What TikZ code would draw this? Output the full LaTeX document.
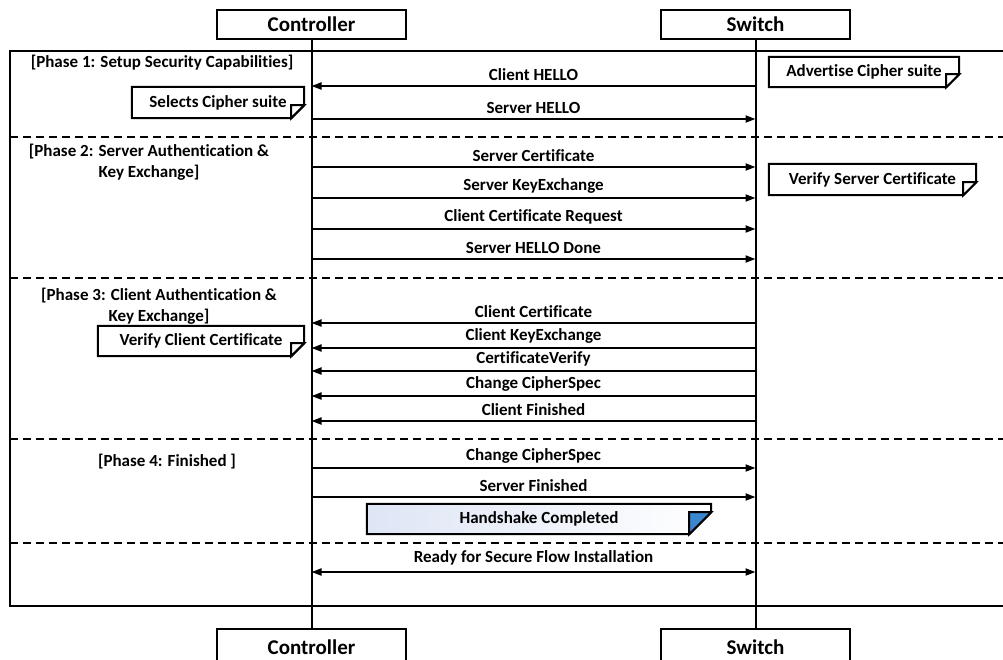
\documentclass[tikz,border=0pt]{standalone}
\usepackage{fontspec}
\setmainfont{Carlito}[Ligatures={NoCommon}]
\usetikzlibrary{arrows.meta}
\definecolor{foldblue}{RGB}{58,134,207}
\definecolor{lightblue}{RGB}{222,229,245}
\newcommand\foldnote[3]{%
  \draw[notebox,#3] (#1.north west) -- (#1.north east) -- ([yshift=#2pt]#1.south east) -- ([xshift=-#2pt]#1.south east) -- (#1.south west) -- cycle;
  \draw[notebox,fill=white,#3] ([xshift=-#2pt]#1.south east) -- ([yshift=#2pt]#1.south east) -- ([xshift=-#2pt,yshift=#2pt]#1.south east) -- cycle;
}
\begin{document}
\begin{tikzpicture}[x=1pt,y=-1pt,
  font=\bfseries\fontsize{17}{21}\selectfont,
  actor/.style={draw,line width=2pt,minimum width=189pt,minimum height=29pt,inner sep=0pt,font=\bfseries\fontsize{21}{24}\selectfont},
  life/.style={line width=2pt},
  msg/.style={line width=2pt,-{Triangle[length=10pt,width=7pt]}},
  bimsg/.style={line width=2pt,{Triangle[length=10pt,width=7pt]}-{Triangle[length=10pt,width=7pt]}},
  lbl/.style={above,inner sep=4pt},
  sep/.style={line width=2pt,dash pattern=on 8pt off 5pt},
  frame/.style={line width=2.3pt},
  notebody/.style={inner sep=0pt,draw=none},
  notebox/.style={line width=2pt,line join=miter},
  phase/.style={align=center,inner sep=0pt}]
\useasboundingbox (0,0) rectangle (1003,659);
% frame
\draw[frame] (1015,51) -- (10,51) -- (10,606) -- (1015,606);
% separators
\foreach \y in {137,278,439,543} \draw[sep] (10,\y) -- (1010,\y);
% actors
\node[actor] (ct) at (311.5,24.5) {Controller};
\node[actor] (st) at (755.5,24.5) {Switch};
\node[actor,minimum height=36pt] (cb) at (311.5,647) {Controller};
\node[actor,minimum height=36pt] (sb) at (755.5,647) {Switch};
\draw[life] (ct.south) -- (cb.north);
\draw[life] (st.south) -- (sb.north);
% coordinates on lifelines
\foreach \i/\y in {1/86,2/119,3/167,4/198,5/229,6/259,7/323,8/348,9/371,10/396,11/421,12/468,13/497,14/572}{
  \coordinate (c\i) at (311.5,\y);
  \coordinate (s\i) at (755.5,\y);
}
% phase labels
\node[phase] (p1) at (162,63) {[Phase 1: Setup Security Capabilities]};
\node[phase] (p2) at (149,162) {[Phase 2: Server Authentication \&\\Key Exchange]};
\node[phase] (p3) at (159,306) {[Phase 3: Client Authentication \&\\Key Exchange]};
\node[phase] (p4) at (167,462) {[Phase 4: Finished ]};
% messages
\draw[msg] (s1) -- node[lbl]{Client HELLO} (c1);
\draw[msg] (c2) -- node[lbl]{Server HELLO} (s2);
\draw[msg] (c3) -- node[lbl]{Server Certificate} (s3);
\draw[msg] (c4) -- node[lbl]{Server KeyExchange} (s4);
\draw[msg] (c5) -- node[lbl]{Client Certificate Request} (s5);
\draw[msg] (c6) -- node[lbl]{Server HELLO Done} (s6);
\draw[msg] (s7) -- node[lbl]{Client Certificate} (c7);
\draw[msg] (s8) -- node[lbl]{Client KeyExchange} (c8);
\draw[msg] (s9) -- node[lbl]{CertificateVerify} (c9);
\draw[msg] (s10) -- node[lbl]{Change CipherSpec} (c10);
\draw[msg] (s11) -- node[lbl]{Client Finished} (c11);
\draw[msg] (c12) -- node[lbl]{Change CipherSpec} (s12);
\draw[msg] (c13) -- node[lbl]{Server Finished} (s13);
\draw[bimsg] (c14) -- node[lbl,yshift=2pt]{Ready for Secure Flow Installation} (s14);
% notes
\node[notebody,minimum width=172pt,minimum height=31pt] (n1) at (218,102.5) {};
\foldnote{n1}{13}{}
\node (n1t) at (n1) {Selects Cipher suite};
\node[notebody,minimum width=190pt,minimum height=30pt] (n2) at (864,72) {};
\foldnote{n2}{13}{}
\node (n2t) at (n2) {Advertise Cipher suite};
\node[notebody,minimum width=207pt,minimum height=31pt] (n3) at (872.5,179.5) {};
\foldnote{n3}{13}{}
\node (n3t) at (n3) {Verify Server Certificate};
\node[notebody,minimum width=206pt,minimum height=30pt] (n4) at (201,341) {};
\foldnote{n4}{13}{}
\node (n4t) at (n4) {Verify Client Certificate};
\node[notebody,minimum width=344pt,minimum height=30pt] (n5) at (539,519) {};
\draw[notebox,left color=lightblue,right color=white] (n5.north west) -- (n5.north east) -- ([yshift=22pt]n5.south east) -- ([xshift=-22pt]n5.south east) -- (n5.south west) -- cycle;
\draw[notebox,fill=foldblue] ([xshift=-22pt]n5.south east) -- ([yshift=22pt]n5.south east) -- ([xshift=-22pt,yshift=22pt]n5.south east) -- cycle;
\node (n5t) at (n5) {Handshake Completed};
\end{tikzpicture}
\end{document}
